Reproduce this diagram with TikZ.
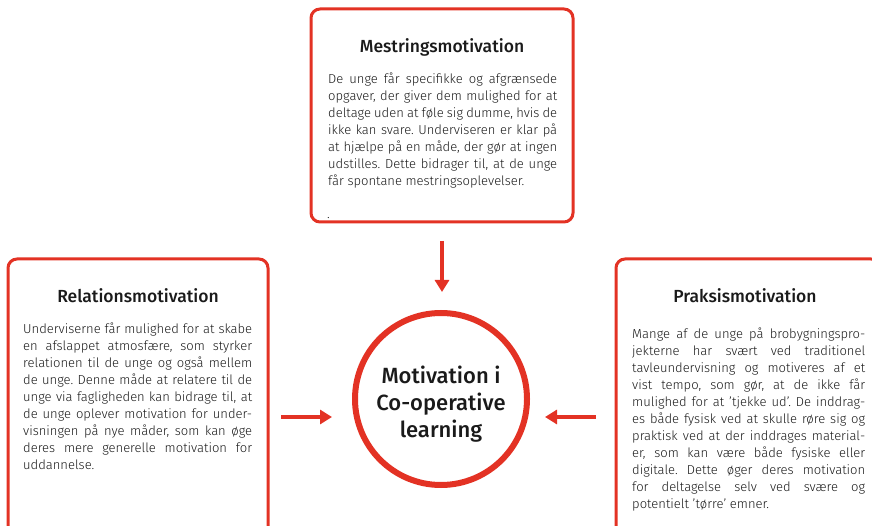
\documentclass[tikz,border=0pt]{standalone}
\usepackage{fontspec}
\setmainfont{Fira Sans Light}[BoldFont={Fira Sans Medium}]
\usetikzlibrary{arrows.meta}
\definecolor{roed}{RGB}{227,50,36}
\definecolor{tekst}{RGB}{26,26,26}
\frenchspacing
\tikzstyle{boks} = [draw=roed, line width=3pt, rounded corners=9pt, outer sep=0pt, inner sep=0pt]
\tikzstyle{pil} = [draw=roed, line width=4pt, -{Triangle[width=14pt,length=12pt]}]
\tikzstyle{overskrift} = [font=\bfseries\fontsize{17.5}{20}\selectfont, text=tekst, anchor=base, inner sep=0pt]
\tikzstyle{broedtekst} = [font=\fontsize{13}{17}\selectfont, text=tekst, text width=229pt, align=justify, anchor=north west, inner sep=0pt]

\begin{document}
\begin{tikzpicture}[x=1pt, y=-1pt]
        \clip (0,0) rectangle (872,526);
        % Bokse
        \node[boks, minimum width=262pt, minimum height=213pt] (mestring) at (442,115.5) {};
        \node[boks, minimum width=260pt, minimum height=301pt] (relation) at (138,409.5) {};
        \node[boks, minimum width=264pt, minimum height=301pt] (praksis) at (748,409.5) {};
        \node[circle, draw=roed, line width=6pt, minimum size=172pt, inner sep=0pt, outer sep=0pt] (midte) at (441,399) {};

        % Overskrifter
        \node[overskrift] (mestringtitel) at (442,53) {Mestringsmotivation};
        \node[overskrift] (relationtitel) at (138,302) {Relationsmotivation};
        \node[overskrift] (praksistitel) at (745,302) {Praksismotivation};
        \node[font=\bfseries\fontsize{22}{27}\selectfont, text=tekst, align=center] (midtetekst) at (441,404) {Motivation i\\Co-operative\\learning};

        % Tekster
        \node[broedtekst] (mestringtekst) at (328,72.5) {De unge får specifikke og afgrænsede\linebreak
          opgaver, der giver dem mulighed for at\linebreak
          deltage uden at føle sig dumme, hvis de\linebreak
          ikke kan svare. Underviseren er klar på\linebreak
          at hjælpe på en måde, der gør at ingen\linebreak
          udstilles. Dette bidrager til, at de unge\linebreak
          får spontane mestringsoplevelser.};
        \node[anchor=base west, inner sep=0pt, font=\fontsize{13}{17}\selectfont, text=tekst] (prik) at (327,219) {.};
        \node[broedtekst] (relationtekst) at (23,323) {Underviserne får mulighed for at skabe\linebreak
          en afslappet atmosfære, som styrker\linebreak
          relationen til de unge og også mellem\linebreak
          de unge. Denne måde at relatere til de\linebreak
          unge via fagligheden kan bidrage til, at\linebreak
          de unge oplever motivation for under-\linebreak
          visningen på nye måder, som kan øge\linebreak
          deres mere generelle motivation for\linebreak
          uddannelse.};
        \node[broedtekst, text width=233pt] (praksistekst) at (632,328) {Mange af de unge på brobygningspro-\linebreak
          jekterne har svært ved traditionel\linebreak
          tavleundervisning og motiveres af et\linebreak
          vist tempo, som gør, at de ikke får\linebreak
          mulighed for at ’tjekke ud’. De inddrag-\linebreak
          es både fysisk ved at skulle røre sig og\linebreak
          praktisk ved at der inddrages material-\linebreak
          er, som kan være både fysiske eller\linebreak
          digitale. Dette øger deres motivation\linebreak
          for deltagelse selv ved svære og\linebreak
          potentielt ’tørre’ emner.};

        % Pile
        \draw[pil, shorten <=19pt, shorten >=21pt] (mestring.south) -- (mestring.south |- midte.north);
        \draw[pil, shorten <=13pt, shorten >=23pt] (relation.east |- 0,417) -- (midte.west |- 0,417);
        \draw[pil, shorten <=20pt, shorten >=18pt] (praksis.west |- 0,417) -- (midte.east |- 0,417);
\end{tikzpicture}
\end{document}
